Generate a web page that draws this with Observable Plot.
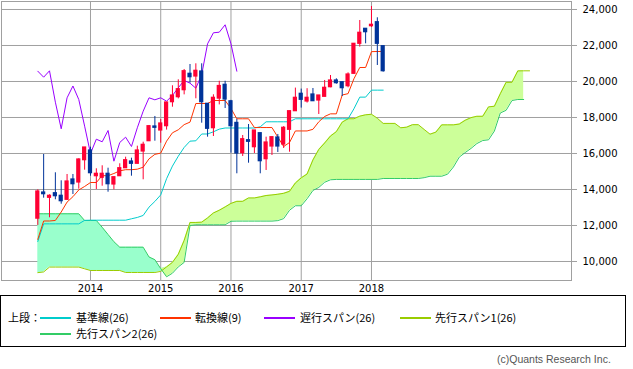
<!DOCTYPE html>
<html><head><meta charset="utf-8">
<script src="https://cdn.jsdelivr.net/npm/d3@7"></script>
<script src="https://cdn.jsdelivr.net/npm/@observablehq/plot@0.6"></script>
<style>
body{margin:0;background:#fff;width:633px;height:369px;position:relative;overflow:hidden;font-family:"Noto Sans CJK JP",sans-serif}
#chart{position:absolute;left:0;top:0}
#box{position:absolute;left:0;top:295px;width:626px;height:52px;border:1px solid #000;box-sizing:border-box}
.lt{position:absolute;font-size:11px;line-height:11px;white-space:nowrap;color:#000}
.sw{position:absolute;height:0;width:31px;border-top:2px solid}
#copy{position:absolute;left:497px;top:353px;font-family:"Liberation Sans",sans-serif;font-size:10.5px;line-height:12px;color:#555;white-space:nowrap}
</style></head>
<body>
<div id="chart"></div>
<div id="box"></div>
<div id="leg"></div>
<div id="copy">(c)Quants Research Inc.</div>
<script>
// monthly bars, Apr 2013 .. Mar 2018
const months = ["2013-04","2013-05","2013-06","2013-07","2013-08","2013-09","2013-10","2013-11","2013-12",
"2014-01","2014-02","2014-03","2014-04","2014-05","2014-06","2014-07","2014-08","2014-09","2014-10","2014-11","2014-12",
"2015-01","2015-02","2015-03","2015-04","2015-05","2015-06","2015-07","2015-08","2015-09","2015-10","2015-11","2015-12",
"2016-01","2016-02","2016-03","2016-04","2016-05","2016-06","2016-07","2016-08","2016-09","2016-10","2016-11","2016-12",
"2017-01","2017-02","2017-03","2017-04","2017-05","2017-06","2017-07","2017-08","2017-09","2017-10","2017-11","2017-12",
"2018-01","2018-02","2018-03"];
const open  = [12380,13833,13539,13794,13650,13428,14556,14389,15628,16167,14739,14650,14872,14278,14739,15183,15556,15428,16111,16683,17500,17278,17517,18850,19128,19517,20428,20278,20556,18761,17406,19050,19817,18900,17700,16017,16739,16350,17128,15683,16389,16889,16500,17317,18350,19317,18889,19278,18944,19150,19683,20056,19961,19739,20428,22094,22928,23072,23294,21961];
const high  = [13983,15944,13706,14928,14483,14833,14833,15706,16333,16350,15150,15317,15183,14683,15428,15794,15739,16406,16628,17556,18056,17889,18833,19761,20094,20667,20944,20983,20983,18761,19261,20012,20012,18951,17900,17000,17611,17278,17128,16906,16906,17056,17494,18350,19633,19578,19600,19611,19222,20056,20333,20150,19961,20481,22094,23389,22928,24167,23539,21961];
const low   = [12004,13517,12428,13428,13183,13400,13722,14017,15072,14739,14000,14183,13850,13983,14739,15183,14739,15428,14539,16683,16683,16572,17300,18572,19034,19258,19906,19039,17683,16906,16944,18700,18500,16017,14872,15833,15461,16000,14872,15056,15889,16056,16278,16072,18350,18522,18800,18900,18167,19150,19650,19850,19167,19650,20400,21911,22094,23000,20889,20517];
const close = [13889,13739,13650,13628,13350,14444,14294,15667,16333,14906,14872,14872,14294,14683,15183,15628,15428,16167,16483,17517,17428,17667,18833,19222,19572,20572,20239,20594,18850,17372,19094,19750,19000,17518,16000,16794,16650,17278,15572,16611,16906,16389,17428,18350,19094,18983,19094,18906,19222,19650,20056,19906,19628,20389,22094,22706,22739,23150,22094,20572];
// 転換線(9)
const tenkan = [11230,12250,12250,12280,12750,13300,13600,13974,14168,14389,14389,14767,14767,14889,15036,15100,15100,15128,15239,15703,15953,16020,16686,17150,17317,17603,17742,18778,18778,18778,18944,18944,18944,18500,17928,17928,17928,17442,17442,17442,17442,16911,16386,16611,17253,17253,17253,17344,17761,18056,18203,18203,19250,19324,20150,20778,20778,21658,21667,21667];
// 基準線(26)
const kijun = [11110,12091,12091,12091,12091,12091,12091,12091,12286,12294,12294,12294,12294,12294,12294,12294,12372,12447,12558,13022,13338,13700,14600,15300,15850,16336,16686,16706,17083,17083,17206,17353,17417,17417,17417,17417,17417,17417,17483,17761,17761,17761,17761,17761,17928,17928,17928,17928,17928,17928,17928,17928,17928,17928,18483,19131,19131,19519,19519,19519];
// 遅行スパン(26), plotted from the first bar
const chikou = [20572,20239,20594,18850,17372,19094,19750,19000,17518,16000,16794,16650,17278,15572,16611,16906,16389,17428,18350,19094,18983,19094,18906,19222,19650,20056,19906,19628,20389,22094,22706,22739,23150,22094,20572];
// 先行スパン1(26), bar index 0..84
const span1 = [9380,9420,9690,9690,9690,9690,9690,9690,9594,9500,9500,9500,9500,9500,9500,9390,9390,9390,9390,9390,9390,9450,9700,9950,10400,
11170,12170,12170,12186,12420,12696,12846,13032,13227,13342,13342,13530,13530,13592,13665,13697,13736,13788,13898,14362,14646,14860,15643,16225,16583,16970,17214,17742,17930,17930,18075,18148,18180,17958,17672,17672,17672,17430,17462,17601,17601,17336,17073,17186,17590,17590,17590,17636,17845,17992,18066,18066,18589,18626,19316,19955,19955,20589,20593,20593];
// 先行スパン2(26), bar index 0..84
const span2 = [12650,12650,12650,12650,12650,12650,12650,12650,12278,12278,12278,11900,11500,11100,10794,10794,10794,10794,10794,10250,10100,9600,9150,9350,9700,
9950,12000,12040,12040,12040,12040,12040,12040,12234,12243,12243,12243,12243,12243,12243,12243,12271,12382,12846,13096,13096,13484,13948,14115,14401,14540,14559,14559,14559,14559,14559,14559,14559,14559,14611,14611,14611,14611,14611,14611,14611,14656,14736,14736,14736,14850,15250,15800,16050,16280,16550,16720,16760,17250,18250,18400,18944,19000,19000];
const yTicks = [10000,12000,14000,16000,18000,20000,22000,24000];
const yearLabels = ["2014","2015","2016","2017","2018"];

const C = {up:"#ff0033", down:"#003399", tenkan:"#ff3300", kijun:"#00cccc", chikou:"#9900ff", s1:"#99cc00", s2:"#33cc66", cloudDn:"#99ffcc", cloudUp:"#ccff99", grid:"#a0a0a0"};

const bars = months.map((m,i)=>({i, o:open[i], h:high[i], l:low[i], c:close[i]}));
const fwd = span1.map((a,i)=>({i, a, b:span2[i], hi:Math.max(a, span2[i])}));
const yearIdx = yearLabels.map(y => months.indexOf(y + "-01"));

const x0 = (1 - 37.3) / 5.854, x1 = (571 - 37.3) / 5.854;
const colorOf = d => d.c >= d.o ? C.up : C.down;

const chart = Plot.plot({
  width: 633, height: 295,
  marginLeft: 1, marginRight: 62, marginTop: 1, marginBottom: 15,
  style: {fontFamily: "DejaVu Sans", fontSize: "10px", background: "#fff", color: "#000"},
  x: {type: "linear", domain: [x0, x1], label: null},
  y: {domain: [8944, 24444], label: null},
  marks: [
    Plot.ruleY(yTicks, {stroke: C.grid}),
    Plot.ruleX(yearIdx, {stroke: C.grid}),
    Plot.areaY(fwd, {x: "i", y1: "a", y2: "hi", fill: C.cloudDn}),
    Plot.areaY(fwd, {x: "i", y1: "b", y2: "hi", fill: C.cloudUp}),
    Plot.lineY(fwd, {x: "i", y: "a", stroke: C.s1, strokeWidth: 1}),
    Plot.lineY(fwd, {x: "i", y: "b", stroke: C.s2, strokeWidth: 1}),
    Plot.lineY(kijun, {x: (d,i)=>i, y: d=>d, stroke: C.kijun, strokeWidth: 1}),
    Plot.lineY(tenkan, {x: (d,i)=>i, y: d=>d, stroke: C.tenkan, strokeWidth: 1}),
    Plot.lineY(chikou, {x: (d,i)=>i, y: d=>d, stroke: C.chikou, strokeWidth: 1}),
    Plot.ruleX(bars, {x: "i", y1: "l", y2: "h", stroke: colorOf, strokeWidth: 1}),
    Plot.rect(bars, {x1: d=>d.i-0.36, x2: d=>d.i+0.36, y1: d=>Math.min(d.o,d.c), y2: d=>Math.max(d.o,d.c), fill: colorOf, insetTop: -0.6, insetBottom: -0.6}),
    Plot.frame({stroke: C.grid}),
    Plot.axisY(yTicks, {anchor: "right", label: null, tickSize: 5, tickPadding: 6, stroke: C.grid, fill: "#000", tickFormat: d3.format(",")}),
    Plot.axisX(yearIdx, {anchor: "bottom", label: null, tickSize: 0, tickPadding: 4, fill: "#000", tickFormat: (d,k)=>yearLabels[k]})
  ]
});
document.getElementById("chart").appendChild(chart);

// legend
const legend = [
  {label:"上段：", x:8, row:0},
  {sw:C.kijun, x:40, row:0}, {label:"基準線(26)", x:76, row:0},
  {sw:C.tenkan, x:160, row:0}, {label:"転換線(9)", x:195, row:0},
  {sw:C.chikou, x:264, row:0}, {label:"遅行スパン(26)", x:300, row:0},
  {sw:C.s1, x:400, row:0}, {label:"先行スパン1(26)", x:435, row:0},
  {sw:C.s2, x:40, row:1}, {label:"先行スパン2(26)", x:76, row:1}
];
const rowY = [317.5, 334];
const leg = document.getElementById("leg");
for (const it of legend) {
  const el = document.createElement("div");
  if (it.sw) {
    el.className = "sw"; el.style.borderTopColor = it.sw;
    el.style.left = it.x + "px"; el.style.top = (rowY[it.row] - 1) + "px";
  } else {
    el.className = "lt"; el.textContent = it.label;
    el.style.left = it.x + "px"; el.style.top = (rowY[it.row] - 6) + "px";
  }
  leg.appendChild(el);
}
</script>
</body></html>
